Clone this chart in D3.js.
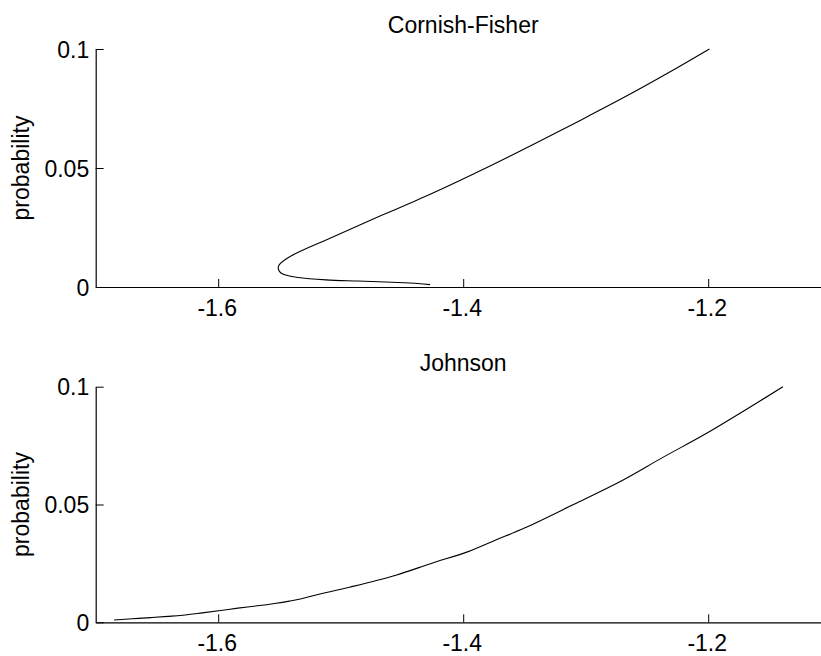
<!DOCTYPE html>
<html>
<head>
<meta charset="utf-8">
<script src="https://cdn.jsdelivr.net/npm/d3@7"></script>
<style>
  html, body { margin: 0; padding: 0; background: #fff; }
  svg { display: block; }
  text { font-family: "Liberation Sans", Arial, sans-serif; fill: #000; }
</style>
</head>
<body>
<svg id="chart" width="821" height="656"></svg>
<script>
// ---- data ----
const probability = [0.001, 0.0015, 0.002, 0.0025, 0.003, 0.004, 0.005, 0.006, 0.007, 0.008, 0.009, 0.010,
  0.012, 0.015, 0.020, 0.025, 0.030, 0.035, 0.040, 0.050, 0.060, 0.070, 0.080, 0.090, 0.100];
const cornishFisher = [-1.427, -1.437, -1.458, -1.486, -1.512, -1.535, -1.545, -1.549, -1.5505, -1.551, -1.5505, -1.549,
  -1.544, -1.533, -1.511, -1.489, -1.467, -1.4445, -1.4225, -1.3815, -1.3425, -1.3045, -1.2675, -1.2325, -1.199];
const johnson = [-1.685, -1.670, -1.655, -1.641, -1.629, -1.613, -1.598, -1.584, -1.568, -1.554, -1.542, -1.532,
  -1.517, -1.492, -1.455, -1.426, -1.396, -1.373, -1.350, -1.310, -1.271, -1.237, -1.202, -1.170, -1.139];
const xTicks = [-1.6, -1.4, -1.2];
const xTickLabels = ["-1.6", "-1.4", "-1.2"];
const yTicks = [0, 0.05, 0.1];
const yTickLabels = ["0", "0.05", "0.1"];
const titles = ["Cornish-Fisher", "Johnson"];
const yLabel = "probability";

const panels = [
  { title: titles[0], xs: cornishFisher, top: 49, bottom: 287 },
  { title: titles[1], xs: johnson, top: 386.7, bottom: 622.3 }
];

const svg = d3.select("#chart");
const left = 95.7, right = 830.7;
const fs = 23;

panels.forEach(p => {
  const x = d3.scaleLinear().domain([-1.7, -1.1]).range([left, right]);
  const y = d3.scaleLinear().domain([0, 0.1]).range([p.bottom, p.top]);
  const g = svg.append("g");

  // x axis
  const xa = g.append("g").attr("transform", `translate(0,${p.bottom})`)
    .call(d3.axisBottom(x).tickValues(xTicks).tickSizeInner(-8).tickSizeOuter(0)
      .tickFormat((d, i) => xTickLabels[i]));
  xa.select(".domain").attr("stroke", "#000").attr("stroke-width", 1.2);
  xa.selectAll(".tick line").attr("stroke", "#000");
  xa.selectAll(".tick text").attr("y", 29).attr("dy", 0).attr("x", -1.5)
    .style("font-size", fs + "px").style("font-family", "Liberation Sans, Arial, sans-serif")
    .attr("fill", "#000");

  // y axis
  const ya = g.append("g").attr("transform", `translate(${left},0)`)
    .call(d3.axisLeft(y).tickValues(yTicks).tickSizeInner(-8).tickSizeOuter(0)
      .tickFormat((d, i) => yTickLabels[i]));
  ya.select(".domain").attr("stroke", "#000").attr("stroke-width", 1.2);
  ya.selectAll(".tick line").attr("stroke", "#000");
  ya.selectAll(".tick text").attr("x", -6.5).attr("dy", "0.36em")
    .style("font-size", fs + "px").style("font-family", "Liberation Sans, Arial, sans-serif")
    .attr("fill", "#000");

  // title
  g.append("text")
    .attr("x", (left + right) / 2)
    .attr("y", p.top - 16.2)
    .attr("text-anchor", "middle")
    .style("font-size", fs + "px")
    .text(p.title);

  // y label
  g.append("text")
    .attr("transform", `translate(28.5,${(p.top + p.bottom) / 2}) rotate(-90)`)
    .attr("text-anchor", "middle")
    .style("font-size", fs + "px")
    .text(yLabel);

  // curve
  const pts = probability.map((pr, i) => [p.xs[i], pr]);
  g.append("path")
    .datum(pts)
    .attr("fill", "none")
    .attr("stroke", "#000")
    .attr("stroke-width", 1.1)
    .attr("d", d3.line().x(d => x(d[0])).y(d => y(d[1])).curve(d3.curveCatmullRom.alpha(0.5)));
});
</script>
</body>
</html>
